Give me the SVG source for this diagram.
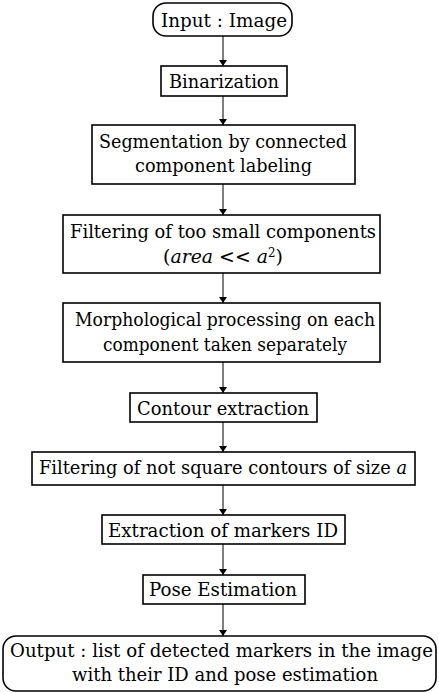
<svg xmlns="http://www.w3.org/2000/svg" width="439" height="693" viewBox="0 0 439 693">
  <style>
    .box { fill: #ffffff; stroke: #000000; stroke-width: 1.6; }
    text { font-family: 'DejaVu Serif', 'Liberation Serif', serif; font-size: 19px; fill: #000000; }
    .it { font-style: italic; }
    .long { font-size: 18px; }
    .edge { stroke: #000000; stroke-width: 1; fill: none; marker-end: url(#head); }
  </style>
  <defs>
    <marker id="head" markerWidth="6" markerHeight="8" refX="6" refY="4" orient="auto" markerUnits="userSpaceOnUse">
      <path d="M0,0 L6,4 L0,8 Z" fill="#000000"/>
    </marker>
  </defs>
  <rect width="439" height="693" fill="#ffffff"/>

  <g id="connectors">
    <line class="edge" x1="223" y1="36" x2="223" y2="66"/>
    <line class="edge" x1="223" y1="96" x2="223" y2="125"/>
    <line class="edge" x1="223" y1="184" x2="223" y2="215"/>
    <line class="edge" x1="223" y1="273" x2="223" y2="303"/>
    <line class="edge" x1="223" y1="362" x2="223" y2="393"/>
    <line class="edge" x1="223" y1="422" x2="223" y2="452"/>
    <line class="edge" x1="223" y1="485" x2="223" y2="515"/>
    <line class="edge" x1="223" y1="544" x2="223" y2="575"/>
    <line class="edge" x1="223" y1="604" x2="223" y2="636"/>
  </g>

  <!-- lines are laid out by their left edge with a fixed run length -->
  <g id="input">
    <rect class="box" x="153" y="3" width="139" height="33" rx="13"/>
    <text x="161" y="27" textLength="126" lengthAdjust="spacingAndGlyphs">Input : Image</text>
  </g>

  <g id="binarization">
    <rect class="box" x="161" y="66" width="126" height="30"/>
    <text x="169" y="88" textLength="110" lengthAdjust="spacingAndGlyphs">Binarization</text>
  </g>

  <g id="segmentation">
    <rect class="box" x="92" y="125" width="263" height="59"/>
    <text x="99" y="148" textLength="248" lengthAdjust="spacingAndGlyphs">Segmentation by connected</text>
    <text x="135" y="172" textLength="177" lengthAdjust="spacingAndGlyphs">component labeling</text>
  </g>

  <g id="filter-small">
    <rect class="box" x="63" y="215" width="317" height="58"/>
    <text x="70" y="238" textLength="306" lengthAdjust="spacingAndGlyphs">Filtering of too small components</text>
    <text x="163" y="263" textLength="120" lengthAdjust="spacingAndGlyphs">(<tspan class="it">area</tspan> &lt;&lt; <tspan class="it">a</tspan><tspan dy="-6" font-size="12">2</tspan><tspan dy="6">)</tspan></text>
  </g>

  <g id="morphology">
    <rect class="box" x="63" y="303" width="317" height="59"/>
    <text x="75" y="326" textLength="300" lengthAdjust="spacingAndGlyphs">Morphological processing on each</text>
    <text x="103" y="351" textLength="244" lengthAdjust="spacingAndGlyphs">component taken separately</text>
  </g>

  <g id="contour">
    <rect class="box" x="130" y="393" width="187" height="29"/>
    <text x="137" y="415" textLength="172" lengthAdjust="spacingAndGlyphs">Contour extraction</text>
  </g>

  <g id="filter-square">
    <rect class="box" x="32" y="452" width="383" height="33"/>
    <text class="long" x="39" y="474" textLength="368" lengthAdjust="spacingAndGlyphs">Filtering of not square contours of size <tspan class="it">a</tspan></text>
  </g>

  <g id="marker-id">
    <rect class="box" x="102" y="515" width="243" height="29"/>
    <text x="108" y="537" textLength="230" lengthAdjust="spacingAndGlyphs">Extraction of markers ID</text>
  </g>

  <g id="pose">
    <rect class="box" x="143" y="575" width="162" height="29"/>
    <text x="149" y="596" textLength="148" lengthAdjust="spacingAndGlyphs">Pose Estimation</text>
  </g>

  <g id="output">
    <rect class="box" x="3" y="636" width="433" height="55" rx="13"/>
    <text class="long" x="10" y="657" textLength="423" lengthAdjust="spacingAndGlyphs">Output : list of detected markers in the image</text>
    <text x="72" y="681" textLength="306" lengthAdjust="spacingAndGlyphs">with their ID and pose estimation</text>
  </g>
</svg>
